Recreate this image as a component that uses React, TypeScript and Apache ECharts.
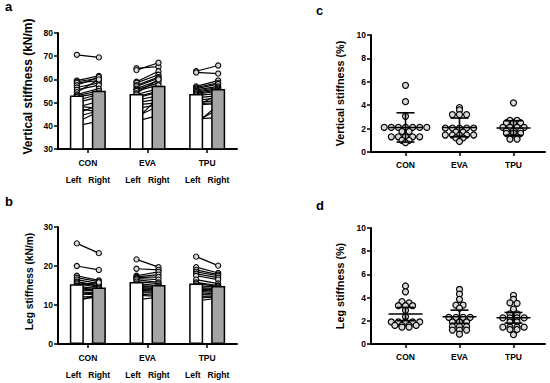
import React, { useEffect, useRef } from 'react';
import * as echarts from 'echarts';

// ---------- categories ----------
const GROUPS = ['CON', 'EVA', 'TPU'];
const SIDES = ['Left', 'Right'];

// ---------- panel a: vertical stiffness (kN/m), paired Left/Right ----------
const conVertL = [70.6, 59.5, 59.0, 58.5, 57.5, 56.5, 55.5, 54.5, 53.5, 53.0, 52.5, 51.0, 50.0, 48.5, 48.0, 47.5, 45.2, 44.0, 41.5, 40.0];
const conVertR = [69.5, 61.5, 60.5, 59.5, 61.0, 58.5, 57.5, 60.0, 56.0, 55.0, 54.0, 53.5, 52.5, 47.5, 50.5, 46.0, 49.0, 46.5, 46.2, 42.0];
const evaVertL = [64.8, 64.0, 59.0, 58.5, 57.5, 57.0, 56.0, 55.5, 55.0, 54.0, 53.5, 52.5, 52.0, 51.0, 50.0, 49.0, 47.5, 44.0, 43.0, 42.0];
const evaVertR = [65.5, 67.2, 63.5, 62.0, 61.0, 60.5, 59.5, 58.5, 57.5, 60.0, 56.0, 55.0, 54.5, 53.0, 51.5, 50.0, 49.0, 48.5, 52.0, 44.5];
const tpuVertL = [63.5, 63.0, 57.0, 56.5, 56.0, 55.5, 55.0, 54.5, 54.0, 53.5, 53.0, 52.0, 51.0, 50.0, 49.5, 49.0, 48.5, 43.0, 41.0, 42.0];
const tpuVertR = [66.0, 62.5, 59.5, 58.5, 58.0, 57.0, 56.5, 56.0, 55.5, 55.0, 54.0, 53.0, 52.0, 51.0, 50.0, 49.5, 53.5, 43.5, 49.0, 47.0];
const vertMeanL = [53.1, 53.7, 53.7];
const vertMeanR = [55.1, 57.3, 55.9];

// ---------- panel b: leg stiffness (kN/m), paired Left/Right ----------
const conLegL = [25.8, 20.0, 17.5, 17.0, 16.5, 16.0, 15.8, 15.5, 15.0, 14.8, 14.5, 14.0, 13.8, 13.5, 13.2, 13.0, 12.5, 12.0, 11.5, 11.0];
const conLegR = [23.3, 19.0, 16.3, 16.0, 15.5, 15.0, 14.8, 14.5, 15.8, 14.2, 13.8, 13.5, 14.0, 13.0, 12.8, 12.5, 13.2, 12.2, 12.0, 12.6];
const evaLegL = [21.7, 19.3, 17.5, 17.2, 17.0, 16.8, 16.5, 16.0, 15.5, 15.0, 14.8, 14.5, 14.2, 14.0, 13.8, 13.5, 13.2, 12.8, 12.5, 11.3];
const evaLegR = [19.7, 19.0, 18.5, 17.8, 17.2, 16.5, 15.8, 15.5, 15.0, 14.8, 14.5, 14.2, 14.0, 13.8, 13.5, 13.2, 13.0, 12.5, 12.2, 12.0];
const tpuLegL = [22.4, 19.7, 19.0, 18.5, 18.0, 17.5, 16.5, 15.8, 15.5, 15.0, 14.5, 14.2, 14.0, 13.8, 13.5, 13.2, 12.8, 12.2, 11.8, 11.0];
const tpuLegR = [20.1, 18.2, 17.8, 17.5, 17.0, 16.5, 15.5, 15.0, 14.8, 14.5, 14.2, 14.0, 13.8, 13.5, 13.2, 12.8, 12.5, 12.3, 12.0, 11.8];
const legMeanL = [15.3, 15.9, 15.5];
const legMeanR = [14.5, 15.1, 14.9];

// ---------- panel c: vertical stiffness (%) ----------
const conVertPct = [5.7, 4.3, 3.05, 2.1, 2.1, 2.1, 2.1, 2.1, 2.1, 2.1, 1.75, 1.75, 1.3, 1.3, 1.3, 1.3, 1.3, 1.0, 1.0, 0.8];
const evaVertPct = [3.8, 3.6, 3.2, 3.2, 3.2, 2.05, 2.05, 2.05, 2.05, 2.05, 1.7, 1.7, 1.45, 1.45, 1.45, 1.45, 1.45, 1.2, 1.2, 0.9];
const tpuVertPct = [4.2, 2.7, 2.7, 2.5, 2.5, 2.5, 2.1, 2.1, 2.1, 2.1, 1.8, 1.8, 1.8, 1.6, 1.6, 1.6, 1.3, 1.3, 1.1, 1.1];
const vertPctMean = [2.1, 2.1, 2.05];
const vertPctErr = [1.25, 0.8, 0.62];

// ---------- panel d: leg stiffness (%) ----------
const conLegPct = [5.0, 4.5, 3.65, 3.55, 3.3, 3.3, 3.3, 2.9, 2.35, 1.9, 1.9, 1.9, 1.9, 1.9, 1.6, 1.6, 1.6, 1.6, 1.45, 1.45];
const evaLegPct = [4.7, 4.3, 3.85, 3.35, 3.35, 3.1, 2.3, 2.3, 2.3, 2.3, 1.9, 1.9, 1.9, 1.5, 1.5, 1.5, 1.2, 1.2, 1.2, 0.85];
const tpuLegPct = [4.2, 3.85, 3.55, 3.5, 3.0, 2.6, 2.6, 2.25, 2.25, 2.25, 2.25, 1.9, 1.9, 1.45, 1.45, 1.45, 1.45, 1.25, 1.25, 0.8];
const legPctMean = [2.58, 2.35, 2.26];
const legPctErr = [0.57, 0.57, 0.46];

// ---------- styles ----------
const FONT = '"Liberation Sans", Arial, Helvetica, sans-serif';
const BAR_W = 14;
const BAR_GAP_PX = 8;
const PAIR_OFF = (BAR_W + BAR_GAP_PX) / 2;
const SMALL_R = 2.6;
const BIG_R = 3;
const ROW_SPACING = 7.1;
const ROW_BIN = 0.15;
const DOT_FILL = '#d9d9d9';
const LABEL_FS = 8.5;

function pairData(L: number[][], R: number[][]) {
  const out: number[][] = [];
  L.forEach((arr, c) => arr.forEach((v, s) => out.push([c, v, R[c][s]])));
  return out;
}

// GraphPad-like row layout: values in the same bin are spread evenly around the centre.
function rowOffsets(vals: number[]): number[] {
  const order = vals.map((_, i) => i).sort((a, b) => vals[b] - vals[a]);
  const rows: number[][] = [];
  let cur: number[] = [];
  let start = Infinity;
  for (const i of order) {
    if (cur.length && Math.abs(vals[i] - start) > ROW_BIN) { rows.push(cur); cur = []; }
    if (!cur.length) start = vals[i];
    cur.push(i);
  }
  if (cur.length) rows.push(cur);
  const out = new Array(vals.length).fill(0);
  rows.forEach((row) => row.forEach((idx, k) => { out[idx] = (k - (row.length - 1) / 2) * ROW_SPACING; }));
  return out;
}

const blackAxisLine = { show: true, lineStyle: { color: '#000', width: 2 } };
const blackTick = { show: true, length: 4, lineStyle: { color: '#000', width: 1.5 } };

function yAxis(gridIndex: number, min: number, max: number, interval: number, name: string,
  nameGap: number, nfs: number, shiftUp: number) {
  return {
    type: 'value', gridIndex, min, max, interval,
    axisLine: blackAxisLine, axisTick: blackTick, splitLine: { show: false },
    axisLabel: { fontSize: LABEL_FS, fontWeight: 'bold', color: '#000', fontFamily: FONT, margin: 5 },
    name, nameLocation: 'middle', nameGap,
    nameTextStyle: {
      fontSize: nfs, fontWeight: 'bold', color: '#000', fontFamily: FONT,
      padding: [0, 0, 0, shiftUp * 2],
    },
  };
}

function hiddenY(gridIndex: number, min: number, max: number) {
  return { type: 'value', gridIndex, min, max, show: false };
}

function xAxisPaired(gridIndex: number) {
  const txt = { fontSize: LABEL_FS, fontWeight: 'bold', color: '#000', fontFamily: FONT, lineHeight: 17 };
  return {
    type: 'category', gridIndex, data: GROUPS,
    axisLine: blackAxisLine,
    axisTick: { ...blackTick, alignWithLabel: true },
    axisLabel: {
      interval: 0, margin: 5,
      formatter: (v: string) => `{g|${v}}\n{s|${SIDES[0]}}{sp|}{s|${SIDES[1]}}`,
      rich: { g: txt, s: txt, sp: { width: 7 } },
    },
  };
}

function xAxisFrame(gridIndex: number) {
  return {
    type: 'value', gridIndex, min: 0, max: 1,
    axisLine: blackAxisLine, axisTick: { show: false }, axisLabel: { show: false }, splitLine: { show: false },
  };
}

function xAxisScatter(gridIndex: number) {
  return {
    type: 'category', gridIndex, data: GROUPS,
    axisLine: blackAxisLine,
    axisTick: { ...blackTick, alignWithLabel: true },
    axisLabel: { interval: 0, margin: 8, fontSize: LABEL_FS, fontWeight: 'bold', color: '#000', fontFamily: FONT },
  };
}

function pairedSeries(axisIdx: number, meanL: number[], meanR: number[], L: number[][], R: number[][]) {
  const data = pairData(L, R);
  return [
    {
      type: 'bar', xAxisIndex: axisIdx, yAxisIndex: axisIdx, data: meanL, barWidth: BAR_W,
      barGap: `${(BAR_GAP_PX / BAR_W) * 100}%`,
      itemStyle: { color: '#ffffff', borderColor: '#000', borderWidth: 1.5 }, silent: true,
    },
    {
      type: 'bar', xAxisIndex: axisIdx, yAxisIndex: axisIdx, data: meanR, barWidth: BAR_W,
      itemStyle: { color: '#a4a4a4', borderColor: '#000', borderWidth: 1.5 }, silent: true,
    },
    {
      type: 'custom', xAxisIndex: axisIdx, yAxisIndex: axisIdx, data, silent: true,
      encode: { x: 0, y: [1, 2] },
      renderItem: (_p: any, api: any) => {
        const c = api.value(0);
        const a = api.coord([c, api.value(1)]);
        const b = api.coord([c, api.value(2)]);
        return {
          type: 'line',
          shape: { x1: a[0] - PAIR_OFF, y1: a[1], x2: b[0] + PAIR_OFF, y2: b[1] },
          style: { stroke: '#000', lineWidth: 1.2 },
        };
      },
    },
    {
      type: 'custom', xAxisIndex: axisIdx, yAxisIndex: axisIdx, data, silent: true,
      encode: { x: 0, y: [1, 2] },
      renderItem: (_p: any, api: any) => {
        const c = api.value(0);
        const a = api.coord([c, api.value(1)]);
        const b = api.coord([c, api.value(2)]);
        const st = { fill: DOT_FILL, stroke: '#000', lineWidth: 1.1 };
        return {
          type: 'group',
          children: [
            { type: 'circle', shape: { cx: a[0] - PAIR_OFF, cy: a[1], r: SMALL_R }, style: st },
            { type: 'circle', shape: { cx: b[0] + PAIR_OFF, cy: b[1], r: SMALL_R }, style: st },
          ],
        };
      },
    },
  ];
}

function scatterSeries(axisIdx: number, groups: number[][], mean: number[], err: number[]) {
  const data: number[][] = [];
  groups.forEach((arr, c) => arr.forEach((v, i) => data.push([c, v, i])));
  const errData = mean.map((m, c) => [c, m, err[c]]);
  const offsets = groups.map((g) => rowOffsets(g));
  return [
    {
      type: 'custom', xAxisIndex: axisIdx, yAxisIndex: axisIdx, data, silent: true,
      encode: { x: 0, y: 1 },
      renderItem: (_p: any, api: any) => {
        const c = api.value(0);
        const i = api.value(2);
        const p = api.coord([c, api.value(1)]);
        return {
          type: 'circle',
          shape: { cx: p[0] + offsets[c][i], cy: p[1], r: BIG_R },
          style: { fill: DOT_FILL, stroke: '#000', lineWidth: 1.2 },
        };
      },
    },
    {
      type: 'custom', xAxisIndex: axisIdx, yAxisIndex: axisIdx, data: errData, silent: true,
      encode: { x: 0, y: 1 },
      renderItem: (_p: any, api: any) => {
        const c = api.value(0);
        const m = api.value(1);
        const e = api.value(2);
        const pm = api.coord([c, m]);
        const pu = api.coord([c, m + e]);
        const pl = api.coord([c, m - e]);
        const st = { stroke: '#000', lineWidth: 1.6 };
        return {
          type: 'group',
          children: [
            { type: 'line', shape: { x1: pm[0] - 17, y1: pm[1], x2: pm[0] + 17, y2: pm[1] }, style: st },
            { type: 'line', shape: { x1: pm[0], y1: pu[1], x2: pm[0], y2: pl[1] }, style: st },
            { type: 'line', shape: { x1: pm[0] - 9, y1: pu[1], x2: pm[0] + 9, y2: pu[1] }, style: st },
            { type: 'line', shape: { x1: pm[0] - 9, y1: pl[1], x2: pm[0] + 9, y2: pl[1] }, style: st },
          ],
        };
      },
    },
  ];
}

export default function App() {
  const ref = useRef<HTMLDivElement>(null);
  useEffect(() => {
    document.body.style.margin = '0';
    if (!ref.current) return;
    const chart = echarts.init(ref.current, null, { renderer: 'svg' });
    const labelStyle = { fontSize: 13, fontWeight: 'bold', fill: '#000', fontFamily: FONT };
    chart.setOption({
      animation: false,
      backgroundColor: '#fff',
      grid: [
        { left: 58, top: 33, width: 179, height: 116 },
        { left: 58, top: 227, width: 179, height: 117 },
        { left: 371, top: 35, width: 174, height: 117 },
        { left: 371, top: 228, width: 174, height: 116 },
        { left: 378.5, top: 35, width: 162, height: 117 },
        { left: 378.5, top: 228, width: 162, height: 116 },
      ],
      xAxis: [xAxisPaired(0), xAxisPaired(1), xAxisFrame(2), xAxisFrame(3), xAxisScatter(4), xAxisScatter(5)],
      yAxis: [
        yAxis(0, 30, 80, 10, 'Vertical stiffness (kN/m)', 24, 12, 4.5),
        yAxis(1, 0, 30, 10, 'Leg stiffness (kN/m)', 24, 10.2, 4),
        yAxis(2, 0, 10, 2, 'Vertical stiffness (%)', 26, 10.8, 0),
        yAxis(3, 0, 10, 2, 'Leg stiffness (%)', 26, 10.8, 0),
        hiddenY(4, 0, 10),
        hiddenY(5, 0, 10),
      ],
      graphic: [
        { type: 'text', left: 5, top: 0, style: { text: 'a', ...labelStyle } },
        { type: 'text', left: 5, top: 195, style: { text: 'b', ...labelStyle } },
        { type: 'text', left: 316, top: 4, style: { text: 'c', ...labelStyle } },
        { type: 'text', left: 316, top: 199, style: { text: 'd', ...labelStyle } },
      ],
      series: [
        ...pairedSeries(0, vertMeanL, vertMeanR, [conVertL, evaVertL, tpuVertL], [conVertR, evaVertR, tpuVertR]),
        ...pairedSeries(1, legMeanL, legMeanR, [conLegL, evaLegL, tpuLegL], [conLegR, evaLegR, tpuLegR]),
        ...scatterSeries(4, [conVertPct, evaVertPct, tpuVertPct], vertPctMean, vertPctErr),
        ...scatterSeries(5, [conLegPct, evaLegPct, tpuLegPct], legPctMean, legPctErr),
      ],
    });
    return () => chart.dispose();
  }, []);
  return <div ref={ref} style={{ width: 550, height: 383 }} />;
}
